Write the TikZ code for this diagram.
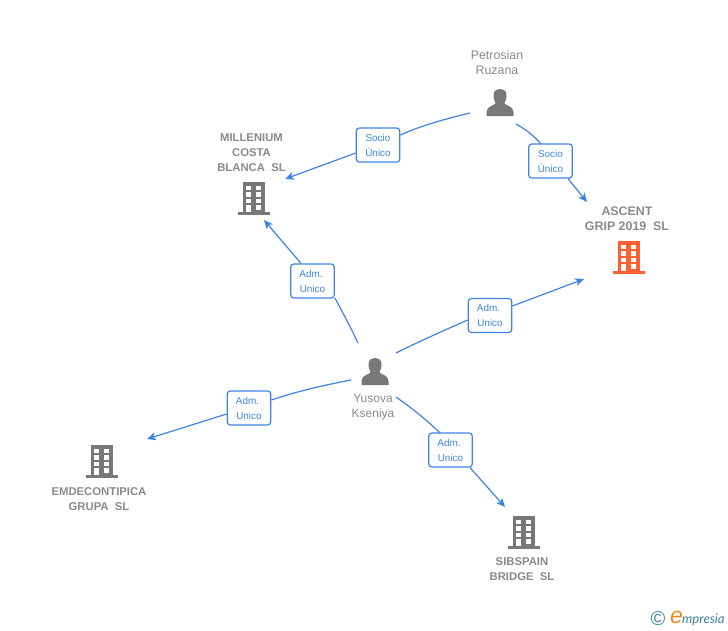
\documentclass[tikz,border=0pt]{standalone}
\usepackage{fontspec}
\setmainfont{Liberation Sans}
\newfontfamily\logofont{Lato}
\usetikzlibrary{arrows.meta}
\definecolor{linkblue}{HTML}{3F84E5}
\definecolor{icongray}{HTML}{787878}
\definecolor{txtgray}{HTML}{8A8A8A}
\definecolor{hot}{HTML}{FF5F33}
\definecolor{logoteal}{HTML}{3F7F9A}
\definecolor{logoorange}{HTML}{F08A1D}
\newcommand{\lift}{\rule{0pt}{8pt}}
\tikzset{
  x=1pt,y=-1pt,
  conn/.style={draw=linkblue,line width=1.2pt},
  arr/.style={conn,-{Stealth[length=9pt,width=8pt,inset=2.5pt]}},
  lab/.style={draw=linkblue,fill=white,rounded corners=3pt,line width=1.2pt,minimum width=43.5pt,minimum height=34pt,inner sep=0pt,align=center,text=linkblue,font=\fontsize{9.9}{15}\selectfont},
  comp/.style={align=center,text=txtgray,inner sep=0pt,font=\fontsize{11.3}{15}\selectfont\bfseries},
  pers/.style={align=center,text=txtgray,inner sep=0pt,font=\fontsize{12.4}{15}\selectfont},
  anchorbox/.style={inner sep=0pt,minimum width=30pt,minimum height=30pt},
  pics/building/.style={code={
    \fill[#1] (-11.5,-16) rectangle (11,14);
    \fill[#1] (-16,14) rectangle (16,17);
    \foreach \yy in {-12.5,-6,0.5}{
      \fill[white] (-7.8,\yy) rectangle (-2.8,\yy+4.5);
      \fill[white] (2,\yy) rectangle (7,\yy+4.5);
    }
    \fill[white] (-7.8,7) rectangle (-2.8,14);
    \fill[white] (2,7) rectangle (7,11.5);
  }},
  pics/person/.style={code={
    \fill[icongray] (0,-14) .. controls (-5.5,-14) and (-7,-10) .. (-6.5,-6)
      .. controls (-6.2,-3) and (-5,-1.5) .. (-4.5,0)
      .. controls (-4.5,2.5) and (-13.5,2.5) .. (-13.5,9)
      -- (-13.5,13) -- (13.5,13) -- (13.5,9)
      .. controls (13.5,2.5) and (4.5,2.5) .. (4.5,0)
      .. controls (5,-1.5) and (6.2,-3) .. (6.5,-6)
      .. controls (7,-10) and (5.5,-14) .. (0,-14) -- cycle;
  }}
}
\begin{document}
\begin{tikzpicture}
\useasboundingbox (0,0) rectangle (728,630);
% icons
\pic at (254,198) {building=icongray};
\pic at (629,257) {building=hot};
\pic at (102,461) {building=icongray};
\pic at (524,532) {building=icongray};
\pic at (500,103) {person};
\pic at (375,372) {person};
\node[anchorbox] (petI) at (500,103) {};
\node[anchorbox] (yusI) at (375,372) {};
\node[anchorbox] (milI) at (254,198) {};
\node[anchorbox] (ascI) at (629,257) {};
\node[anchorbox] (emdI) at (102,461) {};
\node[anchorbox] (sibI) at (524,532) {};
% labels of entities
\node[pers] (petT) at (497,62.5) {Petrosian\\Ruzana};
\node[pers,font=\fontsize{12}{15}\selectfont] (yusT) at (373,407) {Yusova\\Kseniya};
\node[comp] (milT) at (251.5,153) {MILLENIUM\\COSTA\\BLANCA\ \ SL};
\node[comp,font=\fontsize{12.4}{15}\selectfont\bfseries] (ascT) at (627,219) {ASCENT\\GRIP 2019\ \ SL};
\node[comp] (emdT) at (99,499.5) {EMDECONTIPICA\\GRUPA\ \ SL};
\node[comp] (sibT) at (522,569.5) {SIBSPAIN\\BRIDGE\ \ SL};
% connector ends
\coordinate (p1) at (470,113);
\coordinate (m1) at (285,179);
\coordinate (p2) at (516,124);
\coordinate (a2) at (587,202);
\coordinate (y3) at (358,343);
\coordinate (m3) at (264,220);
\coordinate (y4) at (396,353);
\coordinate (a4) at (584,279);
\coordinate (y5) at (351,380);
\coordinate (e5) at (147,439);
\coordinate (y6) at (396,397);
\coordinate (s6) at (505,507);
% edge labels
\node[lab] (l1) at (378,145) {\lift Socio\\Único};
\node[lab] (l2) at (550.5,161) {\lift Socio\\Único};
\node[lab] (l3) at (312.5,281) {\lift Adm.\kern3pt\\Unico};
\node[lab] (l4) at (490,315.5) {\lift Adm.\kern3pt\\Unico};
\node[lab] (l5) at (249,408) {\lift Adm.\kern3pt\\Unico};
\node[lab] (l6) at (450.5,450) {\lift Adm.\kern3pt\\Unico};
% connectors
\path[conn] (p1) .. controls (445,119) and (420,126) .. (l1.east |- 0,135);
\path[arr] (l1.west |- 0,153) -- (m1);
\path[conn] (p2) .. controls (527,130) and (535,137) .. (541,144);
\path[arr] (l2.south -| 568,0) -- (a2);
\path[conn] (y3) .. controls (351,328) and (343,313) .. (l3.east |- 0,298);
\path[arr] (l3.north -| 301,0) -- (m3);
\path[conn] (y4) .. controls (420,341) and (445,330) .. (l4.west |- 0,320);
\path[arr] (l4.east |- 0,306) -- (a4);
\path[conn] (y5) .. controls (325,385) and (298,391) .. (l5.east |- 0,400);
\path[arr] (l5.west |- 0,414) -- (e5);
\path[conn] (y6) .. controls (413,409) and (428,421) .. (440,433);
\path[arr] (l6.south -| 470,0) -- (s6);
% logo
\node[inner sep=0pt,text=logoteal,font=\fontsize{20}{20}\selectfont] (c) at (658,619) {©};
\node[inner sep=0pt,anchor=west,text=logoorange,font=\fontsize{23}{23}\selectfont\itshape] (e) at (670,617) {e};
\node[inner sep=0pt,anchor=west,text=logoteal,font=\fontsize{13}{15}\logofont\itshape] (m) at (682,619.5) {mpresia};
\end{tikzpicture}
\end{document}
